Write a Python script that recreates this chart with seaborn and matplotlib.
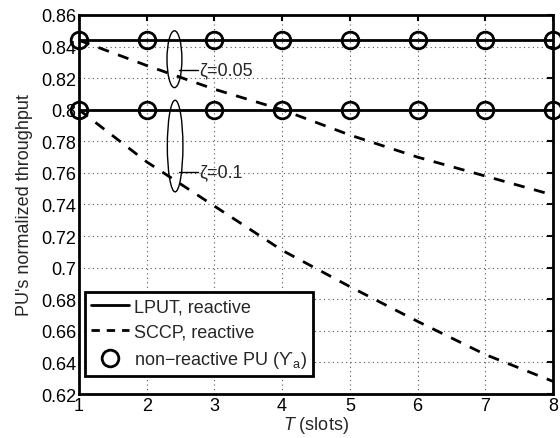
import numpy as np
import matplotlib
matplotlib.use("Agg")
import matplotlib.pyplot as plt
import pandas as pd
import seaborn as sns
from matplotlib.lines import Line2D
from matplotlib.patches import Ellipse
from matplotlib.ticker import FormatStrFormatter, MultipleLocator

# values
T = [1, 2, 3, 4, 5, 6, 7, 8]
lput_z005 = [0.844, 0.844, 0.844, 0.844, 0.844, 0.844, 0.844, 0.844]
lput_z01 = [0.800, 0.800, 0.800, 0.800, 0.800, 0.800, 0.800, 0.800]
sccp_z005 = [0.844, 0.828, 0.813, 0.800, 0.784, 0.770, 0.758, 0.746]
sccp_z01 = [0.800, 0.767, 0.739, 0.711, 0.688, 0.666, 0.645, 0.628]
nonreact_z005 = [0.844, 0.844, 0.844, 0.844, 0.844, 0.844, 0.844, 0.844]
nonreact_z01 = [0.800, 0.800, 0.800, 0.800, 0.800, 0.800, 0.800, 0.800]

sns.set_style("white")
plt.rcParams['font.family'] = ['Liberation Sans', 'DejaVu Sans']
plt.rcParams['mathtext.fontset'] = 'custom'
plt.rcParams['mathtext.it'] = 'Liberation Sans:italic'
plt.rcParams['mathtext.rm'] = 'Liberation Sans'

FS = 13

fig = plt.figure(figsize=(5.6, 4.39), dpi=100)
ax = fig.add_axes([0.141, 0.1002, 0.8465, 0.8634])

for y in [lput_z005, lput_z01]:
    sns.lineplot(x=T, y=y, ax=ax, color='k', linewidth=2)
for y in [sccp_z005, sccp_z01]:
    sns.lineplot(x=T, y=y, ax=ax, color='k', linewidth=2, linestyle=(0, (4, 3.5)))
for y in [nonreact_z005, nonreact_z01]:
    sns.lineplot(x=T, y=y, ax=ax, color='k', linestyle='', marker='o',
                 markersize=12, markerfacecolor='none', markeredgecolor='k',
                 markeredgewidth=2, clip_on=False, zorder=5)

ax.set_xlim(1, 8)
ax.set_ylim(0.62, 0.86)
ax.xaxis.set_major_locator(MultipleLocator(1))
ax.yaxis.set_major_locator(MultipleLocator(0.02))
ax.yaxis.set_major_formatter(FormatStrFormatter('%g'))
ax.tick_params(direction='in', length=4, width=1.5, top=True, right=True,
               labelsize=FS, pad=2, colors='k')
ax.grid(True, linestyle=(0, (1, 3)), color='#555555', linewidth=0.8)
for s in ax.spines.values():
    s.set_linewidth(2)
    s.set_color('k')

ax.set_xlabel('$T$ (slots)', fontsize=FS, labelpad=0)
ax.set_ylabel("PU's normalized throughput", fontsize=FS, labelpad=6)

# zeta ellipses
ax.add_patch(Ellipse((2.41, 0.832), 0.22, 0.036, fill=False, color='k', lw=1))
ax.add_patch(Ellipse((2.42, 0.777), 0.23, 0.058, fill=False, color='k', lw=1))
ax.plot([2.48, 2.76], [0.825, 0.825], color='k', lw=1)
ax.plot([2.48, 2.76], [0.7605, 0.7605], color='k', lw=1)
ax.text(2.77, 0.825, 'ζ=0.05', fontsize=FS, va='center', ha='left')
ax.text(2.77, 0.7605, 'ζ=0.1', fontsize=FS, va='center', ha='left')

handles = [
    Line2D([], [], color='k', lw=2),
    Line2D([], [], color='k', lw=2, linestyle=(0, (3, 2.5))),
    Line2D([], [], color='k', linestyle='', marker='o', markersize=12,
           markerfacecolor='none', markeredgewidth=2),
]
labels = ['LPUT, reactive', 'SCCP, reactive', 'non\u2212reactive PU (\u03d2$_\\mathrm{a}$)']
leg = ax.legend(handles, labels, loc='lower left', bbox_to_anchor=(0.013, 0.047),
                fontsize=FS, fancybox=False, framealpha=1, edgecolor='k',
                handlelength=2.1, handletextpad=0.25, borderpad=0.35, labelspacing=0.45,
                borderaxespad=0)
leg.get_frame().set_linewidth(2)

fig.savefig('out.png', dpi=100)
